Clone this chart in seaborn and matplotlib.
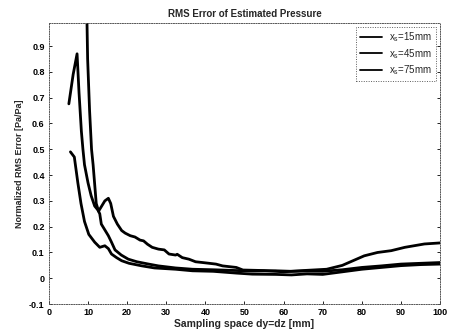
import numpy as np
import pandas as pd
import matplotlib
matplotlib.use("Agg")
import matplotlib.pyplot as plt
import seaborn as sns

# Normalized RMS error of the estimated pressure vs. sampling space, three source distances
series_labels = [r"x$_s$=15mm", r"x$_s$=45mm", r"x$_s$=75mm"]

x_15 = [5.5, 6.5, 7.4, 8.2, 9.1, 10.2, 11.7, 13.0, 14.3, 15.2,
        16.0, 17.3, 18.6, 20.5, 23.8, 27, 32.4, 36.7, 42, 48,
        52, 58, 62, 66, 70, 75, 80, 85, 90, 95, 100]
y_15 = [0.49, 0.47, 0.37, 0.29, 0.22, 0.17, 0.14, 0.12, 0.126, 0.115,
        0.094, 0.08, 0.068, 0.058, 0.048, 0.04, 0.035, 0.029, 0.027, 0.02,
        0.016, 0.015, 0.013, 0.017, 0.015, 0.025, 0.035, 0.042, 0.049, 0.053,
        0.055]

x_45 = [5.1, 6.2, 7.2, 7.7, 8.3, 8.7, 9.1, 10.0, 10.8, 11.7,
        12.5, 13.0, 13.4, 14.2, 15.2, 16.0, 16.9, 18.5, 20.3, 22.5,
        25.5, 28, 32.4, 36.7, 42, 48, 52, 58, 62, 66,
        70, 75, 80, 85, 90, 95, 100]
y_45 = [0.676, 0.79, 0.87, 0.72, 0.57, 0.50, 0.44, 0.37, 0.32, 0.28,
        0.265, 0.25, 0.21, 0.19, 0.165, 0.14, 0.11, 0.09, 0.074, 0.064,
        0.055, 0.048, 0.04, 0.035, 0.033, 0.03, 0.028, 0.029, 0.027, 0.028,
        0.027, 0.033, 0.042, 0.048, 0.055, 0.058, 0.061]

x_75 = [9.5, 9.9, 10.4, 10.9, 11.3, 12.1, 12.7, 13.5, 14.3, 15.2,
        15.8, 16.5, 17.5, 18.6, 19.5, 20.8, 22.0, 23.3, 24.2, 25.2,
        26.4, 28.0, 29.5, 30.7, 32.4, 32.8, 34.1, 35.8, 37.5, 39.3,
        42.7, 44.4, 47.9, 49.6, 55, 60, 65, 71, 75, 80.6,
        84, 87.5, 91, 96, 100]
y_75 = [1.2, 0.85, 0.65, 0.50, 0.44, 0.29, 0.26, 0.28, 0.30, 0.31,
        0.29, 0.24, 0.21, 0.185, 0.175, 0.165, 0.16, 0.148, 0.145, 0.132,
        0.12, 0.113, 0.11, 0.094, 0.09, 0.093, 0.08, 0.074, 0.064, 0.061,
        0.055, 0.048, 0.042, 0.032, 0.03, 0.025, 0.03, 0.035, 0.05, 0.087,
        0.1, 0.107, 0.12, 0.133, 0.137]

x_ticks = [0, 10, 20, 30, 40, 50, 60, 70, 80, 90, 100]
y_ticks = [-0.1, 0, 0.1, 0.2, 0.3, 0.4, 0.5, 0.6, 0.7, 0.8, 0.9]

frames = []
for lab, xs, ys in zip(series_labels, [x_15, x_45, x_75], [y_15, y_45, y_75]):
    frames.append(pd.DataFrame({"dy": xs, "err": ys, "series": lab}))
df = pd.concat(frames, ignore_index=True)

sns.set_theme(style="white")
plt.rcParams["font.family"] = ["Liberation Sans", "DejaVu Sans"]
plt.rcParams["mathtext.default"] = "regular"

fig = plt.figure(figsize=(4.57, 3.36), dpi=100)
ax = fig.add_axes([0.107, 0.095, 0.856, 0.837])

sns.lineplot(data=df, x="dy", y="err", hue="series", units="series",
             estimator=None, sort=False, palette=["black"] * 3,
             linewidth=2.0, ax=ax, legend=True)

ax.set_xlim(0, 100)
ax.set_ylim(-0.1, 0.99)
ax.set_xticks(x_ticks)
ax.set_yticks(y_ticks)
ax.set_xticklabels([str(t) for t in x_ticks], fontsize=6.5, fontweight="bold")
ax.set_yticklabels([f"{t:g}" for t in y_ticks], fontsize=6.5, fontweight="bold")
ax.tick_params(direction="in", length=2.5, width=0.6, pad=3, colors="black",
               left=True, bottom=True, right=True, top=False)

for side in ["left", "right", "top", "bottom"]:
    ax.spines[side].set_visible(True)
    ax.spines[side].set_linestyle((0, (1, 1.5)))
    ax.spines[side].set_linewidth(0.7)
    ax.spines[side].set_color("#555555")

ax.set_title("RMS Error of Estimated Pressure", fontsize=7, fontweight="bold", pad=4)
ax.set_xlabel("Sampling space dy=dz [mm]", fontsize=7.5, fontweight="bold", labelpad=1)
ax.set_ylabel("Normalized RMS Error [Pa/Pa]", fontsize=6.5, fontweight="bold", labelpad=4)

leg = ax.legend(loc="upper right", fontsize=7, frameon=True, fancybox=False,
                handlelength=2.2, handletextpad=0.8, borderpad=0.4,
                labelspacing=0.25, borderaxespad=0.4)
leg.get_frame().set_edgecolor("#333333")
leg.get_frame().set_linestyle((0, (1, 1.5)))
leg.get_frame().set_linewidth(0.7)
for line in leg.get_lines():
    line.set_linewidth(1.3)

fig.savefig("out.png", dpi=100)
